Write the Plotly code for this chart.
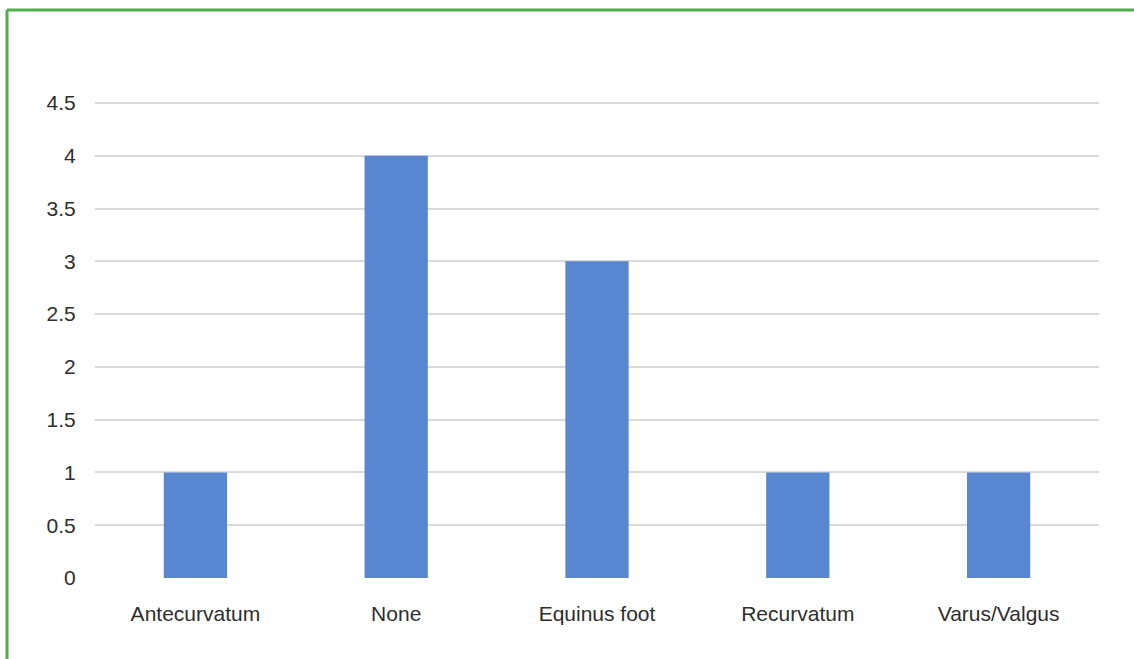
import plotly.graph_objects as go

categories = ["Antecurvatum", "None", "Equinus foot", "Recurvatum", "Varus/Valgus"]
values = [1, 4, 3, 1, 1]
y_ticks = [0, 0.5, 1, 1.5, 2, 2.5, 3, 3.5, 4, 4.5]
y_tick_text = ["0", "0.5", "1", "1.5", "2", "2.5", "3", "3.5", "4", "4.5"]

W, H = 1134, 659
L, R, T, B = 95, 35, 102, 81
pw, ph = W - L - R, H - T - B

def px_x(x):
    return (x - L) / pw

def px_y(y):
    return (H - B - y) / ph

fig = go.Figure(
    go.Bar(
        x=categories,
        y=values,
        marker=dict(color="#5886D0", line=dict(width=0)),
        width=0.315,
    )
)

font = dict(family="Liberation Sans, Arial, sans-serif", size=21, color="#2e2e2e")

fig.update_layout(
    width=W,
    height=H,
    margin=dict(l=L, r=R, t=T, b=B),
    paper_bgcolor="white",
    plot_bgcolor="white",
    showlegend=False,
    font=font,
    xaxis=dict(
        showgrid=False,
        showline=False,
        zeroline=False,
        ticks="outside",
        ticklen=17,
        tickcolor="rgba(0,0,0,0)",
        range=[-0.5, 4.5],
    ),
    yaxis=dict(
        range=[0, 4.51],
        tickvals=y_ticks,
        ticktext=y_tick_text,
        showgrid=True,
        gridcolor="#DADADA",
        gridwidth=2,
        zeroline=False,
        showline=False,
        ticks="outside",
        ticklen=14,
        tickcolor="rgba(0,0,0,0)",
    ),
    shapes=[
        dict(type="line", xref="paper", yref="paper",
             x0=px_x(7), x1=px_x(W + 5), y0=px_y(10), y1=px_y(10),
             line=dict(color="#4FB04B", width=3)),
        dict(type="line", xref="paper", yref="paper",
             x0=px_x(7), x1=px_x(7), y0=px_y(10), y1=px_y(H + 5),
             line=dict(color="#4FB04B", width=3)),
    ],
)

fig.write_html("out.html")
